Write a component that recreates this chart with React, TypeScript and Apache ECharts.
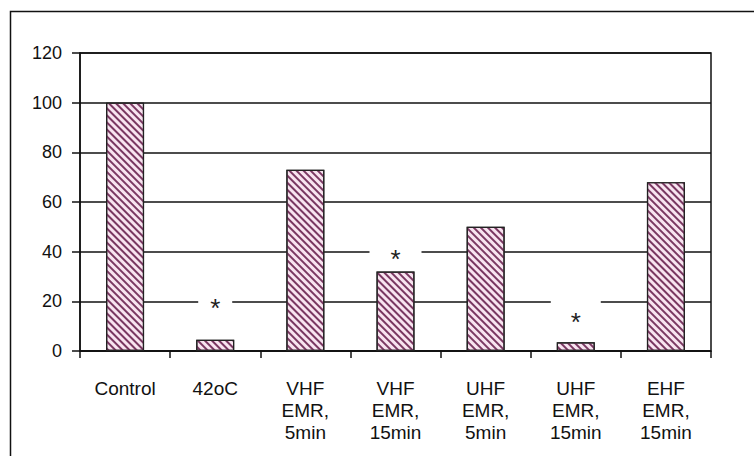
import React, { useEffect, useRef } from "react";
import * as echarts from "echarts";

const categories = [
  "Control",
  "42oC",
  "VHF\nEMR,\n5min",
  "VHF\nEMR,\n15min",
  "UHF\nEMR,\n5min",
  "UHF\nEMR,\n15min",
  "EHF\nEMR,\n15min",
];
const values = [100, 4.5, 73, 32, 50, 3.5, 68];
// significance marks: [category index, value level of the gap]
const starIndex = [1, 3, 5];
const starLevel = [20, 40, 20];
const starGap = [34, 52, 50];
const starShift = [0, 0, 14];
const yTicks = { min: 0, max: 120, interval: 20 };

export default function App() {
  const ref = useRef<HTMLDivElement>(null);
  useEffect(() => {
    const chart = echarts.init(ref.current!, null, { renderer: "svg" });
    const font = "'Liberation Sans', Arial, sans-serif";
    chart.setOption({
      animation: false,
      backgroundColor: "#fff",
      grid: {
        left: 80,
        right: 43,
        top: 53,
        bottom: 105,
        show: true,
        borderColor: "#111",
        borderWidth: 1.5,
        backgroundColor: "transparent",
      },
      graphic: [
        {
          type: "rect",
          left: 8,
          top: 9,
          shape: { width: 770, height: 470 },
          style: { fill: "none", stroke: "#111", lineWidth: 1.5 },
          silent: true,
          z: -10,
        },
      ],
      xAxis: {
        type: "category",
        data: categories,
        axisLine: { lineStyle: { color: "#111", width: 1.5 } },
        axisTick: { show: true, length: 7, lineStyle: { color: "#111", width: 1.5 } },
        axisLabel: {
          interval: 0,
          color: "#111",
          fontFamily: font,
          fontSize: 19,
          lineHeight: 22,
          margin: 26,
        },
      },
      yAxis: {
        type: "value",
        min: yTicks.min,
        max: yTicks.max,
        interval: yTicks.interval,
        axisLine: { show: true, lineStyle: { color: "#111", width: 1.5 } },
        axisTick: { show: true, length: 8, lineStyle: { color: "#111", width: 1.5 } },
        splitLine: { lineStyle: { color: "#111", width: 1.5 } },
        axisLabel: { color: "#111", fontFamily: font, fontSize: 18, margin: 18 },
      },
      series: [
        {
          type: "bar",
          data: values,
          barWidth: 38,
          itemStyle: {
            color: "#f8e4f0",
            borderColor: "#222",
            borderWidth: 1.2,
            decal: {
              symbol: "rect",
              symbolSize: 1,
              dashArrayX: [1, 0],
              dashArrayY: [1.5, 3],
              rotation: Math.PI / 4,
              color: "#7a3862",
            },
          },
          markPoint: {
            symbol: "rect",
            itemStyle: { color: "#fff" },
            label: {
              show: true,
              formatter: "*",
              position: "inside",
              color: "#222",
              fontFamily: font,
              fontSize: 26,
            },
            data: starIndex.map((c, i) => ({
              coord: [c, starLevel[i]],
              symbolSize: [starGap[i], 14],
              label: { offset: [0, 7 + starShift[i]] },
            })),
          },
        },
      ],
    });
    return () => chart.dispose();
  }, []);
  return <div ref={ref} style={{ width: 754, height: 456, position: "absolute", left: 0, top: 0 }} />;
}
